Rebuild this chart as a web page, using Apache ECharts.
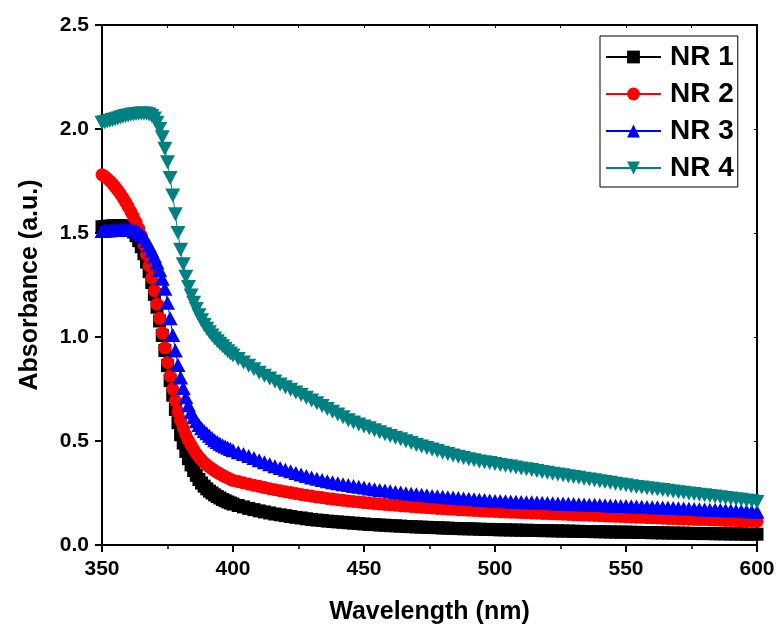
<!DOCTYPE html>
<html>
<head>
<meta charset="utf-8">
<script src="https://cdn.jsdelivr.net/npm/echarts@6/dist/echarts.min.js"></script>
<style>
html,body{margin:0;padding:0;background:#fff;}
#chart{width:781px;height:636px;}
</style>
</head>
<body>
<div id="chart"></div>
<script>
// Wavelength sampling (nm): 1 nm steps 350-400, 2 nm steps 402-600
const wlFine = [350,351,352,353,354,355,356,357,358,359,
  360,361,362,363,364,365,366,367,368,369,
  370,371,372,373,374,375,376,377,378,379,
  380,381,382,383,384,385,386,387,388,389,
  390,391,392,393,394,395,396,397,398,399,
  400];
const wlCoarse = [402,404,406,408,410,412,414,416,418,420,
  422,424,426,428,430,432,434,436,438,440,
  442,444,446,448,450,452,454,456,458,460,
  462,464,466,468,470,472,474,476,478,480,
  482,484,486,488,490,492,494,496,498,500,
  502,504,506,508,510,512,514,516,518,520,
  522,524,526,528,530,532,534,536,538,540,
  542,544,546,548,550,552,554,556,558,560,
  562,564,566,568,570,572,574,576,578,580,
  582,584,586,588,590,592,594,596,598,600];

const seriesNames = ['NR 1','NR 2','NR 3','NR 4'];

const nr1 = [1.530,1.531,1.532,1.533,1.534,1.534,1.535,1.535,1.534,1.532,
  1.527,1.518,1.505,1.487,1.463,1.434,1.400,1.360,1.314,1.262,
  1.205,1.143,1.077,1.007,0.935,0.862,0.790,0.720,0.652,0.588,
  0.530,0.490,0.450,0.415,0.385,0.358,0.335,0.315,0.298,0.283,
  0.270,0.259,0.250,0.241,0.233,0.226,0.219,0.213,0.207,0.202,
  0.197,
  0.190,0.183,0.176,0.170,0.164,0.159,0.154,0.149,0.145,0.141,
  0.137,0.133,0.130,0.126,0.123,0.120,0.118,0.115,0.113,0.111,
  0.109,0.107,0.105,0.103,0.101,0.099,0.098,0.096,0.095,0.093,
  0.092,0.091,0.089,0.088,0.087,0.086,0.085,0.084,0.083,0.082,
  0.081,0.080,0.079,0.078,0.078,0.077,0.076,0.075,0.075,0.074,
  0.073,0.073,0.072,0.072,0.071,0.071,0.070,0.070,0.069,0.069,
  0.068,0.068,0.067,0.067,0.066,0.066,0.065,0.065,0.064,0.064,
  0.063,0.063,0.062,0.062,0.062,0.061,0.061,0.060,0.060,0.059,
  0.059,0.058,0.058,0.057,0.057,0.057,0.056,0.056,0.055,0.055,
  0.055,0.054,0.054,0.054,0.053,0.053,0.053,0.052,0.052,0.052];

const nr2 = [1.780,1.772,1.762,1.750,1.737,1.722,1.706,1.688,1.669,1.648,
  1.626,1.603,1.578,1.552,1.522,1.487,1.445,1.397,1.343,1.285,
  1.223,1.158,1.090,1.020,0.948,0.878,0.812,0.750,0.693,0.641,
  0.600,0.562,0.530,0.503,0.480,0.459,0.440,0.423,0.408,0.395,
  0.385,0.375,0.366,0.357,0.349,0.342,0.335,0.328,0.322,0.316,
  0.310,
  0.305,0.299,0.293,0.287,0.282,0.276,0.271,0.266,0.261,0.256,
  0.252,0.247,0.243,0.239,0.235,0.231,0.228,0.224,0.221,0.218,
  0.215,0.212,0.209,0.207,0.204,0.202,0.199,0.197,0.195,0.193,
  0.191,0.189,0.187,0.185,0.183,0.181,0.180,0.178,0.176,0.175,
  0.173,0.172,0.170,0.169,0.167,0.166,0.165,0.163,0.162,0.161,
  0.160,0.159,0.158,0.157,0.156,0.155,0.154,0.153,0.152,0.151,
  0.150,0.149,0.148,0.147,0.146,0.145,0.144,0.143,0.142,0.141,
  0.140,0.139,0.138,0.137,0.136,0.135,0.134,0.133,0.132,0.131,
  0.130,0.129,0.128,0.127,0.126,0.125,0.124,0.123,0.122,0.122,
  0.121,0.120,0.119,0.118,0.118,0.117,0.116,0.115,0.115,0.114];

const nr3 = [1.510,1.511,1.512,1.513,1.514,1.515,1.516,1.517,1.517,1.518,
  1.518,1.517,1.515,1.511,1.504,1.494,1.480,1.462,1.440,1.415,
  1.388,1.358,1.322,1.280,1.232,1.165,1.090,1.010,0.935,0.865,
  0.805,0.755,0.710,0.672,0.640,0.615,0.595,0.577,0.561,0.548,
  0.537,0.525,0.514,0.504,0.495,0.487,0.480,0.473,0.467,0.461,
  0.455,
  0.446,0.437,0.428,0.418,0.408,0.398,0.388,0.379,0.370,0.362,
  0.354,0.346,0.339,0.332,0.325,0.319,0.313,0.307,0.302,0.297,
  0.292,0.288,0.284,0.280,0.276,0.272,0.268,0.265,0.262,0.258,
  0.255,0.252,0.249,0.246,0.244,0.241,0.239,0.236,0.234,0.232,
  0.230,0.228,0.226,0.224,0.222,0.220,0.218,0.216,0.214,0.212,
  0.211,0.210,0.209,0.208,0.207,0.206,0.205,0.204,0.203,0.202,
  0.201,0.200,0.199,0.198,0.197,0.196,0.195,0.194,0.193,0.192,
  0.191,0.190,0.189,0.188,0.187,0.186,0.185,0.184,0.183,0.182,
  0.181,0.180,0.179,0.178,0.177,0.176,0.174,0.173,0.172,0.171,
  0.170,0.169,0.168,0.167,0.166,0.164,0.163,0.162,0.161,0.160];

const nr4 = [2.030,2.033,2.036,2.040,2.043,2.047,2.051,2.055,2.059,2.062,
  2.065,2.068,2.070,2.072,2.073,2.074,2.074,2.073,2.070,2.063,
  2.050,2.030,2.000,1.960,1.905,1.840,1.765,1.680,1.590,1.500,
  1.420,1.350,1.290,1.240,1.200,1.165,1.135,1.105,1.080,1.058,
  1.040,1.023,1.007,0.993,0.980,0.967,0.955,0.943,0.932,0.921,
  0.911,
  0.894,0.878,0.862,0.845,0.828,0.814,0.800,0.786,0.772,0.758,
  0.746,0.733,0.721,0.708,0.695,0.681,0.668,0.654,0.641,0.627,
  0.614,0.600,0.589,0.579,0.570,0.561,0.552,0.542,0.533,0.524,
  0.516,0.508,0.499,0.490,0.481,0.474,0.466,0.459,0.452,0.444,
  0.437,0.430,0.424,0.418,0.412,0.407,0.402,0.398,0.394,0.390,
  0.385,0.381,0.377,0.373,0.368,0.364,0.360,0.356,0.351,0.347,
  0.343,0.339,0.335,0.331,0.327,0.323,0.319,0.315,0.311,0.307,
  0.303,0.299,0.295,0.291,0.287,0.283,0.279,0.276,0.273,0.270,
  0.267,0.264,0.261,0.257,0.254,0.251,0.248,0.245,0.242,0.239,
  0.236,0.233,0.229,0.226,0.223,0.220,0.217,0.214,0.211,0.207];

const xTicks = [350, 400, 450, 500, 550, 600];
const yTicks = [0.0, 0.5, 1.0, 1.5, 2.0, 2.5];

const wavelengths = wlFine.concat(wlCoarse);
const FONT = '"Liberation Sans", Arial, sans-serif';

function pairs(vals) {
  return wavelengths.map((w, i) => [w, vals[i]]);
}

const styles = [
  {color: '#000000', symbol: 'rect', size: 13},
  {color: '#ff0000', symbol: 'circle', size: 13},
  {color: '#0000ff', symbol: 'triangle', size: [15, 14]},
  {color: '#008080', symbol: 'path://M0,0 L15,0 L7.5,14 Z', size: [15, 14]}
];
const values = [nr1, nr2, nr3, nr4];

const chart = echarts.init(document.getElementById('chart'), null, {renderer: 'canvas'});

const axisText = {fontSize: 21, fontWeight: 'bold', color: '#000', fontFamily: FONT};
const titleText = {fontSize: 25, fontWeight: 'bold', color: '#000', fontFamily: FONT};

const option = {
  animation: false,
  backgroundColor: '#fff',
  grid: {left: 102, right: 24, top: 25, bottom: 91, containLabel: false},
  legend: {
    orient: 'vertical',
    left: 600,
    top: 36,
    data: seriesNames,
    itemWidth: 55,
    itemHeight: 16,
    itemGap: 9,
    padding: [7, 4, 5, 5],
    borderColor: '#000',
    borderWidth: 1,
    textStyle: {fontSize: 28, fontWeight: 'bold', color: '#000', fontFamily: FONT, padding: [0, 0, 0, 4]},
    backgroundColor: '#fff'
  },
  xAxis: [{
    type: 'value',
    min: xTicks[0], max: xTicks[xTicks.length - 1], interval: 50,
    name: 'Wavelength (nm)',
    nameLocation: 'middle',
    nameGap: 55,
    nameTextStyle: titleText,
    axisLine: {onZero: false, lineStyle: {color: '#000', width: 2}},
    axisTick: {inside: false, length: 7, lineStyle: {color: '#000', width: 2}},
    minorTick: {show: true, splitNumber: 2, length: 4, lineStyle: {color: '#000', width: 1.5}},
    axisLabel: Object.assign({margin: 14}, axisText),
    splitLine: {show: false}
  }, {
    type: 'value',
    position: 'top',
    min: xTicks[0], max: xTicks[xTicks.length - 1], interval: 25,
    axisLine: {onZero: false, lineStyle: {color: '#000', width: 2}},
    axisTick: {inside: true, length: 3, lineStyle: {color: '#000', width: 1}},
    axisLabel: {show: false},
    splitLine: {show: false}
  }],
  yAxis: [{
    type: 'value',
    min: yTicks[0], max: yTicks[yTicks.length - 1], interval: 0.5,
    name: 'Absorbance (a.u.)',
    nameLocation: 'middle',
    nameGap: 59,
    nameTextStyle: titleText,
    axisLine: {onZero: false, lineStyle: {color: '#000', width: 2}},
    axisTick: {inside: false, length: 7, lineStyle: {color: '#000', width: 2}},
    axisLabel: Object.assign({margin: 13, formatter: v => v.toFixed(1)}, axisText),
    splitLine: {show: false}
  }, {
    type: 'value',
    position: 'right',
    min: yTicks[0], max: yTicks[yTicks.length - 1], interval: 0.5,
    axisLine: {onZero: false, lineStyle: {color: '#000', width: 2}},
    axisTick: {inside: true, length: 3, lineStyle: {color: '#000', width: 1}},
    axisLabel: {show: false},
    splitLine: {show: false}
  }],
  series: seriesNames.map((name, i) => ({
    name: name,
    type: 'line',
    data: pairs(values[i]),
    showSymbol: true,
    showAllSymbol: true,
    symbol: styles[i].symbol,
    symbolSize: styles[i].size,
    itemStyle: {color: styles[i].color},
    lineStyle: {color: styles[i].color, width: 1},
    emphasis: {disabled: true}
  }))
};

chart.setOption(option);
</script>
</body>
</html>
